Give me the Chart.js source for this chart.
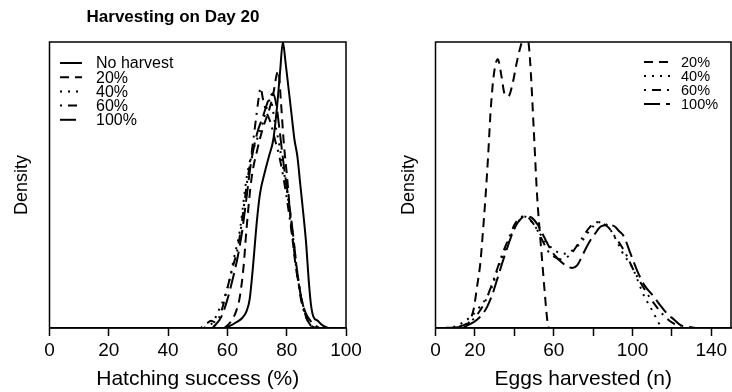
<!DOCTYPE html>
<html><head><meta charset="utf-8">
<script src="https://cdn.jsdelivr.net/npm/chart.js@4"></script>
<style>
html,body{margin:0;padding:0;background:#fff;}
#wrap{position:relative;width:732px;height:392px;overflow:hidden;}
.c{position:absolute;top:0;width:366px;height:392px;}
</style></head><body>
<div id="wrap">
<div class="c" style="left:0"><canvas id="left" width="366" height="392"></canvas></div>
<div class="c" style="left:366px"><canvas id="right" width="366" height="392"></canvas></div>
</div>
<script>
// ---------- Left panel: Hatching success (%) ----------
const leftTitle = 'Harvesting on Day 20';
const leftXTicks = [0, 20, 40, 60, 80, 100];
const leftXLabels = [0, 20, 40, 60, 80, 100];
const leftNames = ['No harvest', '20%', '40%', '60%', '100%'];

const hsNoneX = [59, 61, 63, 65, 66.5, 67.5, 68.5, 70, 71, 72.5, 74, 75.5, 76.8, 77.8, 78.7, 79.6, 80.6, 81.6, 82.6, 83.6, 84.6, 85.6, 86.6, 87.4, 88.2, 89, 90.5, 92, 94];
const hsNoneY = [0, 0.008, 0.02, 0.035, 0.06, 0.1, 0.2, 0.38, 0.47, 0.54, 0.6, 0.66, 0.78, 0.9, 1.0, 0.93, 0.84, 0.75, 0.66, 0.6, 0.5, 0.4, 0.29, 0.17, 0.08, 0.04, 0.025, 0.01, 0];

const hs20X = [59, 61, 63, 64.2, 65.5, 66.4, 68.1, 70, 72, 74, 75.5, 76.5, 77.2, 78, 79, 80.2, 81.5, 83, 84.3, 85.5, 86.5, 88, 90];
const hs20Y = [0, 0.02, 0.06, 0.11, 0.22, 0.34, 0.52, 0.62, 0.7, 0.76, 0.82, 0.88, 0.9, 0.8, 0.65, 0.52, 0.36, 0.22, 0.14, 0.08, 0.04, 0.01, 0];

const hs40X = [52, 55.1, 57, 59.1, 61, 61.9, 63, 64.2, 65.3, 66.4, 68, 70, 72, 73.5, 74.5, 76, 77.5, 79, 80.5, 82, 83.5, 85, 86.5, 88, 90];
const hs40Y = [0, 0.02, 0.06, 0.11, 0.18, 0.23, 0.28, 0.34, 0.43, 0.52, 0.6, 0.66, 0.72, 0.78, 0.8, 0.72, 0.64, 0.55, 0.45, 0.33, 0.2, 0.1, 0.04, 0.01, 0];

const hs60X = [51, 53, 54.5, 56, 58, 60, 62, 63.5, 65, 66.5, 68, 69.5, 70.5, 71.2, 72, 73, 74.5, 76, 77.5, 79, 80.5, 82, 83.5, 85, 86.5, 88, 90];
const hs60Y = [0, 0.015, 0.025, 0.02, 0.06, 0.14, 0.22, 0.28, 0.38, 0.5, 0.6, 0.72, 0.8, 0.84, 0.8, 0.76, 0.72, 0.66, 0.6, 0.52, 0.42, 0.31, 0.19, 0.09, 0.04, 0.01, 0];

const hs100X = [55, 58, 60, 62, 63.5, 65, 66.5, 68, 70, 72, 74, 75.4, 76.5, 77.5, 79, 80.5, 82, 83.5, 85, 86.5, 88, 89.5, 91];
const hs100Y = [0, 0.04, 0.1, 0.18, 0.25, 0.34, 0.46, 0.58, 0.68, 0.74, 0.8, 0.82, 0.78, 0.7, 0.57, 0.46, 0.34, 0.2, 0.1, 0.05, 0.025, 0.01, 0];

// ---------- Right panel: Eggs harvested (n) ----------
const rightXTicks = [0, 20, 40, 60, 80, 100, 120, 140];
const rightXLabels = [0, 20, 60, 100, 140];
const rightNames = ['20%', '40%', '60%', '100%'];

const eh20X = [14, 16, 18, 19.5, 21, 22.8, 24, 25.4, 26.7, 27.9, 29.5, 31.6, 33.5, 35, 37, 39, 41, 43, 45, 46.3, 47.5, 48.5, 49.9, 51.6, 53, 54.2, 55.5, 56.7, 57.5];
const eh20Y = [0, 0.01, 0.035, 0.07, 0.14, 0.23, 0.33, 0.46, 0.6, 0.75, 0.88, 0.94, 0.88, 0.82, 0.81, 0.85, 0.92, 0.98, 1.02, 1.03, 0.98, 0.88, 0.69, 0.46, 0.33, 0.23, 0.12, 0.03, 0];

const eh40X = [5, 10, 14, 18, 22, 26.2, 29, 31.3, 34, 37, 40, 43, 45, 47, 50, 53, 56, 59, 62, 65, 68, 71, 74, 77, 80, 82.5, 84.6, 87, 90, 93, 96, 98.5, 100.7, 103, 106, 109, 112, 114, 116];
const eh40Y = [0, 0.005, 0.02, 0.04, 0.07, 0.11, 0.15, 0.2, 0.25, 0.3, 0.35, 0.38, 0.39, 0.385, 0.36, 0.33, 0.3, 0.28, 0.265, 0.26, 0.265, 0.28, 0.3, 0.33, 0.355, 0.37, 0.37, 0.36, 0.33, 0.29, 0.25, 0.23, 0.2, 0.16, 0.11, 0.074, 0.035, 0.01, 0];

const eh60X = [8, 12, 16, 19, 22, 25, 28, 31, 34, 37, 40, 42, 44, 46, 48, 51, 54, 57, 60, 63.5, 66, 69, 72, 75, 78, 82, 85, 88, 91, 94, 97.3, 100, 104, 107.5, 111, 115, 118, 121, 125];
const eh60Y = [0, 0.005, 0.015, 0.03, 0.055, 0.09, 0.14, 0.2, 0.26, 0.31, 0.36, 0.38, 0.39, 0.39, 0.38, 0.35, 0.31, 0.27, 0.25, 0.24, 0.245, 0.26, 0.29, 0.32, 0.35, 0.37, 0.365, 0.35, 0.32, 0.29, 0.25, 0.21, 0.16, 0.12, 0.085, 0.05, 0.03, 0.015, 0];

const eh100X = [5, 10, 14.4, 18, 21.2, 24, 26.2, 29, 31.3, 34, 36.4, 39, 41, 43.1, 45, 47, 49, 52, 55, 58, 61, 64, 67, 69.4, 72, 75, 78, 81, 84, 88, 91, 93, 95.6, 99, 102.4, 106, 110.8, 114, 117.6, 121, 124.4, 128, 132.8];
const eh100Y = [0, 0.002, 0.005, 0.015, 0.03, 0.05, 0.074, 0.12, 0.17, 0.23, 0.28, 0.33, 0.36, 0.38, 0.39, 0.39, 0.385, 0.36, 0.32, 0.28, 0.25, 0.23, 0.215, 0.21, 0.22, 0.26, 0.3, 0.33, 0.355, 0.36, 0.355, 0.34, 0.32, 0.26, 0.2, 0.15, 0.11, 0.08, 0.05, 0.03, 0.01, 0.004, 0];

// ---------- styling ----------
const FONT = "'Liberation Sans', Arial, Helvetica, sans-serif";
const DASH = {
  solid: [],
  dashed: [9, 6],
  dotted: [2, 6],
  dotdash: [2, 6, 9, 6],
  longdash: [16, 6]
};

function pts(xs, ys) { return xs.map((x, i) => ({ x: x, y: ys[i] })); }
function ds(label, xs, ys, dash) {
  return {
    label: label, data: pts(xs, ys), borderColor: '#000', borderWidth: 2,
    borderDash: dash, pointRadius: 0, fill: false,
    cubicInterpolationMode: 'monotone', showLine: true
  };
}

const framePlugin = {
  id: 'frame',
  afterDatasetsDraw(chart) {
    const { ctx, chartArea: a } = chart;
    ctx.save();
    ctx.strokeStyle = '#000';
    ctx.lineWidth = 1.5;
    ctx.setLineDash([]);
    ctx.strokeRect(a.left, a.top, a.right - a.left, a.bottom - a.top);
    ctx.restore();
  }
};

function legendPlugin(cfg) {
  return {
    id: 'customLegend',
    afterDraw(chart) {
      const ctx = chart.ctx;
      ctx.save();
      ctx.font = cfg.size + 'px ' + FONT;
      ctx.fillStyle = '#000';
      ctx.textBaseline = 'middle';
      ctx.textAlign = 'left';
      chart.data.datasets.forEach((d, i) => {
        const y = cfg.y0 + cfg.dy * i;
        ctx.beginPath();
        ctx.strokeStyle = '#000';
        ctx.lineWidth = 2;
        ctx.setLineDash(d.borderDash);
        ctx.moveTo(cfg.x1, y);
        ctx.lineTo(cfg.x2, y);
        ctx.stroke();
        ctx.setLineDash([]);
        ctx.fillText(d.label, cfg.tx, y + 1);
      });
      ctx.restore();
    }
  };
}

function makeOptions(cfg) {
  return {
    responsive: false,
    animation: false,
    layout: { padding: cfg.padding },
    plugins: {
      legend: { display: false },
      tooltip: { enabled: false },
      title: cfg.title ? {
        display: true, text: cfg.title, color: '#000',
        font: { family: FONT, size: 17, weight: 'bold' },
        padding: { top: 7.5, bottom: 14.1 }
      } : { display: false }
    },
    scales: {
      x: {
        type: 'linear', min: cfg.xMin, max: cfg.xMax,
        afterBuildTicks: s => { s.ticks = cfg.xTicks.map(v => ({ value: v })); },
        afterFit: s => { s.height = 64; },
        ticks: {
          autoSkip: false, maxRotation: 0, minRotation: 0, padding: 3, color: '#000',
          font: { family: FONT, size: 19 },
          callback: v => cfg.xLabels.includes(v) ? String(v) : ''
        },
        grid: { drawOnChartArea: false, drawTicks: true, tickLength: 8, tickWidth: 1.5, tickColor: '#000' },
        border: { display: true, color: '#000', width: 1.5 },
        title: { display: true, text: cfg.xTitle, color: '#000', font: { family: FONT, size: 21 }, padding: { top: 0, bottom: 0 } }
      },
      y: {
        type: 'linear', min: 0, max: 1,
        afterFit: s => { s.width = cfg.yWidth; },
        ticks: { display: false },
        grid: { display: false, drawTicks: false },
        border: { display: false },
        title: { display: true, text: 'Density', color: '#000', font: { family: FONT, size: 18 }, padding: { top: cfg.yTitlePad, bottom: 0 } }
      }
    }
  };
}

const leftStyles = [DASH.solid, DASH.dashed, DASH.dotted, DASH.dotdash, DASH.longdash];
const leftSeries = [[hsNoneX, hsNoneY], [hs20X, hs20Y], [hs40X, hs40Y], [hs60X, hs60Y], [hs100X, hs100Y]];

new Chart(document.getElementById('left'), {
  type: 'scatter',
  data: { datasets: leftSeries.map((s, i) => ds(leftNames[i], s[0], s[1], leftStyles[i])) },
  options: makeOptions({
    padding: { top: 0, right: 20, left: 0, bottom: 0 },
    title: leftTitle, xMin: 0, xMax: 100, xTicks: leftXTicks, xLabels: leftXLabels,
    xTitle: 'Hatching success (%)', yWidth: 49.5, yTitlePad: 11
  }),
  plugins: [framePlugin, legendPlugin({ x1: 60, x2: 82, tx: 96, y0: 63, dy: 14.2, size: 16 })]
});

const rightStyles = [DASH.dashed, DASH.dotted, DASH.dotdash, DASH.longdash];
const rightSeries = [[eh20X, eh20Y], [eh40X, eh40Y], [eh60X, eh60Y], [eh100X, eh100Y]];

new Chart(document.getElementById('right'), {
  type: 'scatter',
  data: { datasets: rightSeries.map((s, i) => ds(rightNames[i], s[0], s[1], rightStyles[i])) },
  options: makeOptions({
    padding: { top: 42, right: 1, left: 0, bottom: 0 },
    title: null, xMin: 0, xMax: 150, xTicks: rightXTicks, xLabels: rightXLabels,
    xTitle: 'Eggs harvested (n)', yWidth: 69.5, yTitlePad: 32
  }),
  plugins: [framePlugin, legendPlugin({ x1: 278, x2: 304, tx: 315, y0: 62, dy: 14, size: 14.5 })]
});
</script>
</body></html>
